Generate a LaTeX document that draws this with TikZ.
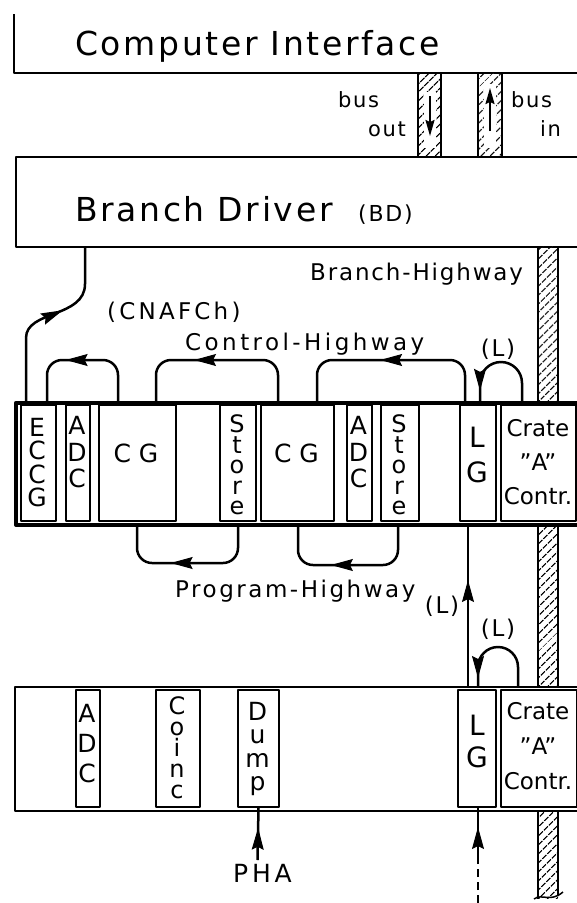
\documentclass[tikz,border=0pt]{standalone}
\usepackage{fontspec}
\setmainfont{DejaVu Sans}
\usetikzlibrary{arrows.meta,patterns.meta,decorations.markings}
\newcommand{\fsz}[2]{\fontsize{#1pt}{#2pt}\selectfont}
\newcommand{\trk}[1]{\addfontfeature{LetterSpace=#1}}
\tikzset{
  ln/.style={line width=2.5pt},
  frm/.style={draw, line width=2.2pt},
  modbox/.style={draw, rectangle, line width=2pt, fill=white, inner sep=0pt, anchor=north west},
  cratefr/.style={draw, rectangle, inner sep=0pt, anchor=north west},
  hatchfill/.style={pattern={Lines[angle=45,distance=6.5pt,line width=1.3pt]}},
  midarr/.style={decoration={markings,mark=at position #1 with {\arrow[line width=1pt]{Stealth[length=22pt,width=12pt,inset=3pt]}}},postaction={decorate}},
  smalltip/.style={-{Stealth[length=16pt,width=9pt,inset=2pt]}},
  lbl/.style={inner sep=0pt, font={\fsz{23}{27}\trk{8}}},
  vt/.style={inner sep=0pt, align=center},
}
\begin{document}
\begin{tikzpicture}[x=1pt,y=-1pt,line join=round]
\useasboundingbox (0,0) rectangle (577,903);

% ---------- Computer Interface ----------
\draw[frm] (14,14) -- (14,73) -- (590,73);
\node[anchor=base west, inner sep=0pt, font={\fsz{33}{40}\trk{8}}] (ci) at (75,55) {Computer Interface};

% ---------- bus columns ----------
\path[hatchfill] (418,73) rectangle (441,156);
\path[hatchfill] (478,73) rectangle (502,156);
\fill[white] (424,92) rectangle (436,148);
\fill[white] (484,84) rectangle (496,148);
\draw[frm] (418,73) -- (418,156) (441,73) -- (441,156) (478,73) -- (478,156) (502,73) -- (502,156);
\coordinate (bo1) at (430,96); \coordinate (bo2) at (430,136);
\draw[line width=1.8pt, smalltip] (bo1) -- (bo2);
\coordinate (bi1) at (490,131); \coordinate (bi2) at (490,88);
\draw[line width=1.8pt, smalltip] (bi1) -- (bi2);
\node[anchor=base west, inner sep=0pt, font={\fsz{21}{25}\trk{8}}] (busA) at (338,107) {bus};
\node[anchor=base west, inner sep=0pt, font={\fsz{21}{25}\trk{8}}] (outA) at (368,136) {out};
\node[anchor=base west, inner sep=0pt, font={\fsz{21}{25}\trk{8}}] (busB) at (511,107) {bus};
\node[anchor=base west, inner sep=0pt, font={\fsz{21}{25}\trk{8}}] (inB) at (540,136) {in};

% ---------- Branch Driver ----------
\node[frm, rectangle, inner sep=0pt, anchor=north west, minimum width=580pt, minimum height=90pt] (bdbox) at (15,156) {};
\node[anchor=base west, inner sep=0pt, font={\fsz{33}{40}\trk{8}}] (bdt) at (75,221) {Branch Driver};
\node[anchor=base west, inner sep=0pt, font={\fsz{22}{26}\trk{8}}] (bdab) at (358,221) {(BD)};

% ---------- Branch highway column ----------
\path[hatchfill] (538,246) rectangle (558,401);
\draw[frm] (538,246) -- (538,401) (558,246) -- (558,401);
\path[hatchfill] (538,523) rectangle (558,686);
\draw[frm] (538,523) -- (538,686) (558,523) -- (558,686);
\path[hatchfill] (538,810) rectangle (558,898);
\draw[frm] (538,810) -- (538,899) (558,810) -- (558,896);
\draw[line width=1.5pt] (534,899) .. controls (542,893) and (550,903) .. (563,892);

\node[lbl, anchor=base west] (bhw) at (310,280) {Branch-Highway};
\node[lbl, anchor=base west, font={\fsz{23}{27}\trk{14}}] (cnaf) at (107,319) {(CNAFCh)};
\node[lbl, anchor=base west, font={\fsz{23}{27}\trk{15}}] (chw) at (185,350) {Control-Highway};
\node[lbl, anchor=base west, font={\fsz{23}{27}\trk{11}}] (phw) at (175,597) {Program-Highway};

% ---------- Crate 1 ----------
\node[cratefr, line width=3.8pt, minimum width=580pt, minimum height=122pt] (crateA) at (14,401) {};
\node[modbox, minimum width=35pt, minimum height=116pt] (eccg)  at (20,404) {};
\node[modbox, minimum width=24pt, minimum height=116pt] (adcA)  at (65,404) {};
\node[modbox, minimum width=77pt, minimum height=116pt] (cgA)   at (98,404) {};
\node[modbox, minimum width=36pt, minimum height=116pt] (stA)   at (219,404) {};
\node[modbox, minimum width=73pt, minimum height=116pt] (cgB)   at (260,404) {};
\node[modbox, minimum width=25pt, minimum height=116pt] (adcB)  at (346,404) {};
\node[modbox, minimum width=38pt, minimum height=116pt] (stB)   at (380,404) {};
\node[modbox, minimum width=36pt, minimum height=116pt] (lgA)   at (459,404) {};
\node[modbox, minimum width=75pt, minimum height=116pt] (ccA)   at (500,404) {};

\node[vt, font={\fsz{25}{23.5}}] (teccg) at (37,462.5) {E\\C\\C\\G};
\node[vt, font={\fsz{25}{26.5}}] (tadcA) at (77,452.5) {A\\D\\C};
\node[vt, font={\fsz{25}{30}}] (tcgA) at (136,453) {C G};
\node[vt, font={\fsz{24}{20.6}}] (tstA) at (237,465) {S\\t\\o\\r\\e};
\node[vt, font={\fsz{25}{30}}] (tcgB) at (296.5,453) {C G};
\node[vt, font={\fsz{25}{26.5}}] (tadcB) at (358.5,452.5) {A\\D\\C};
\node[vt, font={\fsz{24}{20.6}}] (tstB) at (399,465) {S\\t\\o\\r\\e};
\node[vt, font={\fsz{28}{35}}] (tlgA) at (477,454.5) {L\\G};
\node[vt, font={\fsz{23}{34}}] (tccA) at (538,462.5) {Crate\\''A''\\Contr.};

% ---------- Crate 2 ----------
\node[cratefr, line width=2.4pt, minimum width=580pt, minimum height=124pt] (crateB) at (14,686) {};
\node[modbox, minimum width=24pt, minimum height=117pt] (adcC)  at (75,689) {};
\node[modbox, minimum width=44pt, minimum height=117pt] (coinc) at (155,689) {};
\node[modbox, minimum width=41pt, minimum height=117pt] (dump)  at (237,689) {};
\node[modbox, minimum width=38pt, minimum height=117pt] (lgB)   at (457,689) {};
\node[modbox, minimum width=76pt, minimum height=117pt] (ccB)   at (500,689) {};

\node[vt, font={\fsz{25}{30}}] (tadcC) at (87,743.5) {A\\D\\C};
\node[vt, font={\fsz{24}{21}}] (tcoinc) at (177,747.5) {C\\o\\i\\n\\c};
\node[vt, font={\fsz{25}{23.5}}] (tdump) at (257.5,749) {D\\u\\m\\p};
\node[vt, font={\fsz{28}{32}}] (tlgB) at (477,741) {L\\G};
\node[vt, font={\fsz{23}{35}}] (tccB) at (538,746.5) {Crate\\''A''\\Contr.};

% ---------- ECCG to Branch Driver ----------
\coordinate (s0) at (26,401);
\coordinate (s1) at (85,246);
\draw[ln, midarr=0.6] (s0) -- (26,338) .. controls (26,310) and (85,318) .. (85,284) -- (s1);

% ---------- Control-Highway loops ----------
\coordinate (la1) at (118,401); \coordinate (la2) at (47,401);
\coordinate (lb1) at (278,401); \coordinate (lb2) at (156,401);
\coordinate (lc1) at (465,401); \coordinate (lc2) at (317,401);
\draw[ln, rounded corners=15pt, midarr=0.62] (la1) -- ++(0,-41) -| (la2);
\draw[ln, rounded corners=15pt, midarr=0.62] (lb1) -- ++(0,-41) -| (lb2);
\draw[ln, rounded corners=15pt, midarr=0.55] (lc1) -- ++(0,-41) -| (lc2);

% (L) loop crate 1
\coordinate (lo1) at (522,401); \coordinate (lo2) at (480,401);
\draw[ln, midarr=0.9] (lo1) -- (522,383) arc[start angle=0, end angle=-180, radius=21] -- (lo2);
\node[lbl] (Lone) at (498,349) {(L)};

% ---------- Program-Highway loops ----------
\coordinate (pa1) at (238,523); \coordinate (pa2) at (137,523);
\coordinate (pb1) at (398,523); \coordinate (pb2) at (298,523);
\draw[ln, rounded corners=15pt, midarr=0.6] (pa1) -- ++(0,40) -| (pa2);
\draw[ln, rounded corners=15pt, midarr=0.6] (pb1) -- ++(0,42) -| (pb2);

% ---------- L line between crates ----------
\coordinate (lv1) at (468,686); \coordinate (lv2) at (468,523);
\draw[ln, midarr=0.65] (lv1) -- (lv2);
\node[lbl] (Ltwo) at (442,606) {(L)};

% (L) loop crate 2
\coordinate (lp1) at (518,686); \coordinate (lp2) at (478,686);
\draw[ln, midarr=0.92] (lp1) -- (518,667) arc[start angle=0, end angle=-180, radius=20] -- (lp2);
\node[lbl] (Lthree) at (498,629) {(L)};

% ---------- PHA ----------
\node[anchor=base west, inner sep=0pt, font={\fsz{25}{30}\trk{15}}] (pha) at (233,882) {PHA};
\coordinate (phs) at (257.5,860);
\draw[ln, midarr=0.62] (phs) -- (dump.south);

% ---------- dashed input to LG ----------
\coordinate (dsh) at (478,903); \coordinate (dm) at (478,858);
\draw[ln, dash pattern=on 8pt off 5pt] (dsh) -- (dm);
\draw[ln, midarr=0.62] (dm) -- (dm |- lgB.south);
\end{tikzpicture}
\end{document}
